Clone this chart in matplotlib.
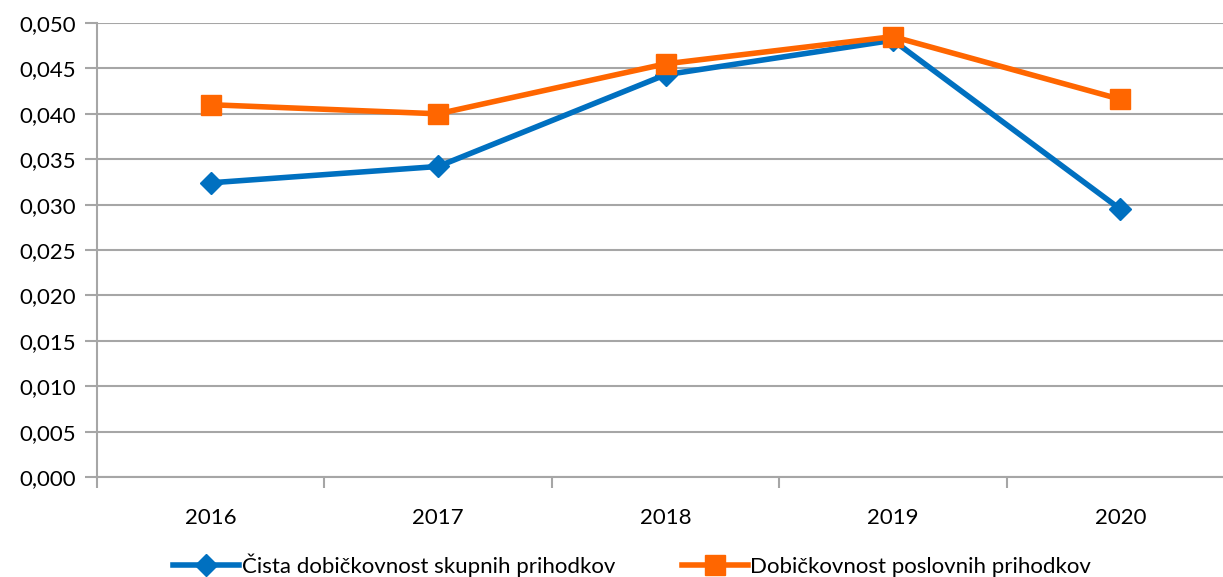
import matplotlib.pyplot as plt
from matplotlib.ticker import MultipleLocator, FuncFormatter, FixedLocator

plt.rcParams['font.family'] = ['Lato', 'DejaVu Sans']

years = ["2016", "2017", "2018", "2019", "2020"]
cista = [0.0324, 0.0342, 0.0443, 0.0481, 0.0295]
poslovni = [0.0410, 0.0400, 0.0455, 0.0485, 0.0416]
labels = ["Čista dobičkovnost skupnih prihodkov", "Dobičkovnost poslovnih prihodkov"]

blue = "#0070C0"
orange = "#FF6600"
grid_c = "#A6A6A6"

fig = plt.figure(figsize=(12.23, 5.77), dpi=100)
# plot area runs a little past the right edge, as in the original
ax = fig.add_axes([97 / 1223, 1 - 477 / 577, 1137 / 1223, 454 / 577])

x = list(range(len(years)))
ax.plot(x, cista, color=blue, lw=4, marker="D", ms=11, label=labels[0], zorder=3)
ax.plot(x, poslovni, color=orange, lw=4, marker="s", ms=14, label=labels[1], zorder=4)

ax.set_xlim(-0.5, len(years) - 0.5)
ax.set_ylim(0, 0.05)
ax.yaxis.set_major_locator(MultipleLocator(0.005))
ax.yaxis.set_major_formatter(FuncFormatter(lambda v, p: f"{v:.3f}".replace(".", ",")))
ax.set_xticks(x)
ax.set_xticklabels(years)
ax.xaxis.set_minor_locator(FixedLocator([i - 0.5 for i in range(len(years) + 1)]))

ax.grid(axis="y", color=grid_c, lw=1.5)
ax.set_axisbelow(True)
for s in ["top", "right"]:
    ax.spines[s].set_visible(False)
for s in ["left", "bottom"]:
    ax.spines[s].set_color(grid_c)
    ax.spines[s].set_linewidth(1.5)

ax.tick_params(axis="y", length=9, width=1.5, color=grid_c, labelsize=16, pad=6)
ax.tick_params(axis="x", which="major", length=0, labelsize=16, pad=22)
ax.tick_params(axis="x", which="minor", length=8, width=1.5, color=grid_c)

fig.legend(loc="center", bbox_to_anchor=(632 / 1223, 1 - 565 / 577), ncol=2, frameon=False,
           fontsize=16, handlelength=3.0, handletextpad=0.1, columnspacing=3.0,
           borderpad=0, borderaxespad=0)

fig.savefig("out.png", dpi=100)
